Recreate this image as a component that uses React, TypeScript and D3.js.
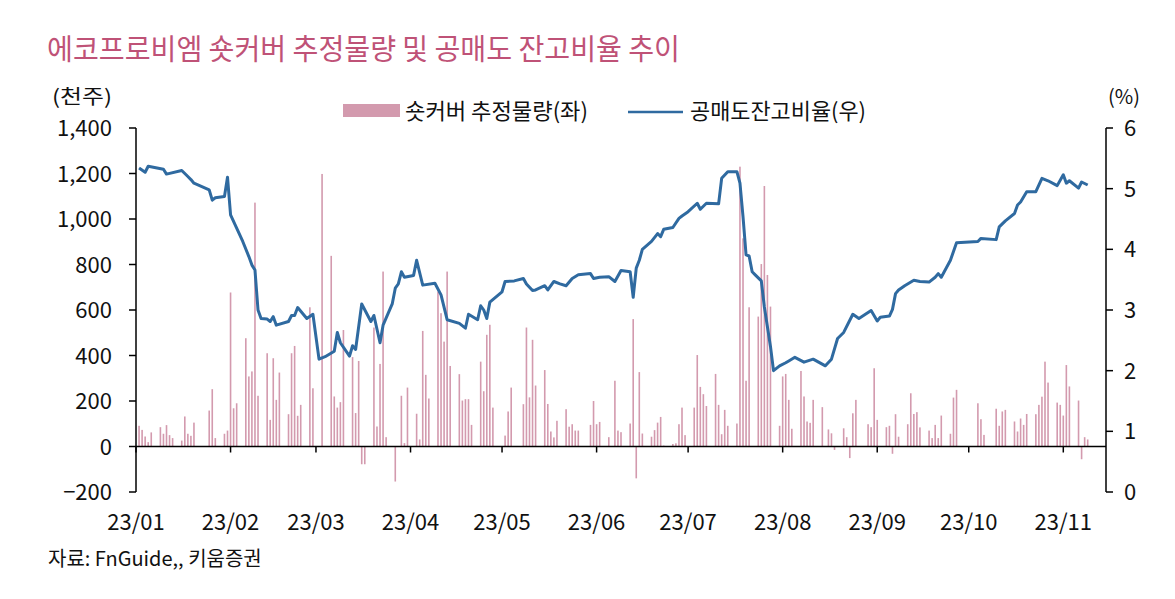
import * as d3 from 'd3'

// 숏커버 추정물량 (천주), 일별
const shortCover: [string, number][] = [
  ['2023-01-02', 91], ['2023-01-03', 73], ['2023-01-04', 44], ['2023-01-05', 19], ['2023-01-06', 62],
  ['2023-01-09', 85], ['2023-01-10', 56], ['2023-01-11', 94], ['2023-01-12', 50], ['2023-01-13', 37],
  ['2023-01-16', 26], ['2023-01-17', 132], ['2023-01-18', 56], ['2023-01-19', 47], ['2023-01-20', 105],
  ['2023-01-25', 158], ['2023-01-26', 252], ['2023-01-27', 37], ['2023-01-30', 56], ['2023-01-31', 70],
  ['2023-02-01', 677], ['2023-02-02', 168], ['2023-02-03', 190], ['2023-02-06', 476], ['2023-02-07', 308],
  ['2023-02-08', 330], ['2023-02-09', 1072], ['2023-02-10', 223], ['2023-02-13', 410], ['2023-02-14', 117],
  ['2023-02-15', 388], ['2023-02-16', 205], ['2023-02-17', 325], ['2023-02-20', 142], ['2023-02-21', 410],
  ['2023-02-22', 442], ['2023-02-23', 135], ['2023-02-24', 183], ['2023-02-27', 612], ['2023-02-28', 256],
  ['2023-03-03', 1198], ['2023-03-06', 838], ['2023-03-07', 220], ['2023-03-08', 171], ['2023-03-09', 195],
  ['2023-03-10', 512], ['2023-03-13', 393], ['2023-03-14', 147], ['2023-03-15', 376], ['2023-03-16', -78],
  ['2023-03-17', -78], ['2023-03-20', 523], ['2023-03-21', 88], ['2023-03-22', 363], ['2023-03-23', 769],
  ['2023-03-24', 41], ['2023-03-27', -154], ['2023-03-29', 223], ['2023-03-30', 15], ['2023-03-31', 259],
  ['2023-04-03', 144], ['2023-04-04', 31], ['2023-04-05', 508], ['2023-04-06', 315], ['2023-04-07', 211],
  ['2023-04-10', 681], ['2023-04-11', 586], ['2023-04-12', 461], ['2023-04-13', 769], ['2023-04-14', 354],
  ['2023-04-17', 318], ['2023-04-18', 202], ['2023-04-19', 208], ['2023-04-20', 208], ['2023-04-21', 95],
  ['2023-04-24', 373], ['2023-04-25', 243], ['2023-04-26', 491], ['2023-04-27', 535], ['2023-04-28', 171],
  ['2023-05-02', 48], ['2023-05-03', 154], ['2023-05-04', 259], ['2023-05-08', 186], ['2023-05-09', 523],
  ['2023-05-10', 216], ['2023-05-11', 469], ['2023-05-12', 268], ['2023-05-15', 336], ['2023-05-16', 187],
  ['2023-05-17', 66], ['2023-05-18', 40], ['2023-05-19', 113], ['2023-05-22', 164], ['2023-05-23', 87],
  ['2023-05-24', 98], ['2023-05-25', 70], ['2023-05-26', 70], ['2023-05-30', 95], ['2023-05-31', 200],
  ['2023-06-01', 98], ['2023-06-02', 108], ['2023-06-05', 41], ['2023-06-07', 289], ['2023-06-08', 70],
  ['2023-06-09', 63], ['2023-06-12', 101], ['2023-06-13', 560], ['2023-06-14', -140], ['2023-06-15', 327],
  ['2023-06-16', 57], ['2023-06-19', 43], ['2023-06-20', 72], ['2023-06-21', 105], ['2023-06-22', 130],
  ['2023-06-23', 4], ['2023-06-26', 11], ['2023-06-27', 14], ['2023-06-28', 98], ['2023-06-29', 171],
  ['2023-06-30', 50], ['2023-07-03', 171], ['2023-07-04', 402], ['2023-07-05', 262], ['2023-07-06', 230],
  ['2023-07-07', 178], ['2023-07-10', 319], ['2023-07-11', 183], ['2023-07-12', 54], ['2023-07-13', 161],
  ['2023-07-14', 91], ['2023-07-17', 101], ['2023-07-18', 1230], ['2023-07-19', 915], ['2023-07-20', 289],
  ['2023-07-21', 612], ['2023-07-24', 571], ['2023-07-25', 802], ['2023-07-26', 1145], ['2023-07-27', 754],
  ['2023-07-28', 615], ['2023-07-31', 91], ['2023-08-01', 308], ['2023-08-02', 319], ['2023-08-03', 205],
  ['2023-08-04', 78], ['2023-08-07', 332], ['2023-08-08', 220], ['2023-08-09', 110], ['2023-08-10', 104],
  ['2023-08-11', 205], ['2023-08-14', 173], ['2023-08-16', 75], ['2023-08-17', 58], ['2023-08-18', -15],
  ['2023-08-21', 80], ['2023-08-22', 41], ['2023-08-23', -51], ['2023-08-24', 146], ['2023-08-25', 205],
  ['2023-08-29', 98], ['2023-08-30', 85], ['2023-08-31', 344], ['2023-09-01', 117], ['2023-09-04', 85],
  ['2023-09-05', 91], ['2023-09-06', -32], ['2023-09-07', 142], ['2023-09-08', 43], ['2023-09-11', 98],
  ['2023-09-12', 234], ['2023-09-13', 143], ['2023-09-14', 151], ['2023-09-15', 84], ['2023-09-18', 70],
  ['2023-09-19', 37], ['2023-09-20', 95], ['2023-09-21', 37], ['2023-09-22', 136], ['2023-09-25', 56],
  ['2023-09-26', 215], ['2023-09-27', 249], ['2023-10-04', 190], ['2023-10-05', 120], ['2023-10-06', 51],
  ['2023-10-10', 166], ['2023-10-11', 91], ['2023-10-12', 154], ['2023-10-13', 161], ['2023-10-16', 110],
  ['2023-10-17', 66], ['2023-10-18', 123], ['2023-10-19', 95], ['2023-10-20', 143], ['2023-10-23', 142],
  ['2023-10-24', 183], ['2023-10-25', 219], ['2023-10-26', 373], ['2023-10-27', 281], ['2023-10-30', 193],
  ['2023-10-31', 183], ['2023-11-01', 136], ['2023-11-02', 358], ['2023-11-03', 264], ['2023-11-06', 202],
  ['2023-11-07', -56], ['2023-11-08', 41], ['2023-11-09', 31],
]

// 공매도 잔고비율 (%)
const shortRatio: [string, number][] = [
  ['2023-01-02', 5.34], ['2023-01-04', 5.27], ['2023-01-05', 5.37], ['2023-01-10', 5.32], ['2023-01-11', 5.24],
  ['2023-01-16', 5.30], ['2023-01-18', 5.20], ['2023-01-19', 5.15], ['2023-01-20', 5.09], ['2023-01-25', 4.98],
  ['2023-01-26', 4.81], ['2023-01-27', 4.85], ['2023-01-30', 4.87], ['2023-01-31', 5.19], ['2023-02-01', 4.57],
  ['2023-02-03', 4.35], ['2023-02-05', 4.13], ['2023-02-07', 3.88], ['2023-02-08', 3.74], ['2023-02-09', 3.66],
  ['2023-02-10', 3.00], ['2023-02-11', 2.86], ['2023-02-13', 2.85], ['2023-02-14', 2.81], ['2023-02-15', 2.89],
  ['2023-02-16', 2.75], ['2023-02-20', 2.81], ['2023-02-21', 2.91], ['2023-02-22', 2.91], ['2023-02-23', 3.04],
  ['2023-02-26', 2.86], ['2023-02-28', 2.93], ['2023-03-02', 2.19], ['2023-03-04', 2.23], ['2023-03-07', 2.32],
  ['2023-03-08', 2.63], ['2023-03-09', 2.46], ['2023-03-12', 2.24], ['2023-03-13', 2.41], ['2023-03-14', 2.35],
  ['2023-03-16', 3.10], ['2023-03-19', 2.81], ['2023-03-20', 2.91], ['2023-03-22', 2.46], ['2023-03-23', 2.75],
  ['2023-03-26', 3.10], ['2023-03-27', 3.36], ['2023-03-28', 3.43], ['2023-03-29', 3.63], ['2023-03-30', 3.54],
  ['2023-04-02', 3.57], ['2023-04-03', 3.82], ['2023-04-05', 3.41], ['2023-04-09', 3.44], ['2023-04-11', 3.25],
  ['2023-04-13', 2.84], ['2023-04-17', 2.78], ['2023-04-19', 2.70], ['2023-04-20', 2.93], ['2023-04-23', 2.84],
  ['2023-04-24', 3.07], ['2023-04-25', 3.00], ['2023-04-26', 2.86], ['2023-04-27', 3.13], ['2023-05-01', 3.30],
  ['2023-05-02', 3.47], ['2023-05-05', 3.48], ['2023-05-08', 3.52], ['2023-05-09', 3.43], ['2023-05-11', 3.32],
  ['2023-05-12', 3.33], ['2023-05-15', 3.40], ['2023-05-16', 3.33], ['2023-05-18', 3.47], ['2023-05-20', 3.43],
  ['2023-05-22', 3.40], ['2023-05-24', 3.52], ['2023-05-26', 3.58], ['2023-05-30', 3.60], ['2023-05-31', 3.52],
  ['2023-06-02', 3.54], ['2023-06-05', 3.55], ['2023-06-07', 3.47], ['2023-06-09', 3.65], ['2023-06-12', 3.63],
  ['2023-06-13', 3.21], ['2023-06-14', 3.69], ['2023-06-15', 3.82], ['2023-06-16', 4.00], ['2023-06-19', 4.13],
  ['2023-06-21', 4.26], ['2023-06-22', 4.21], ['2023-06-23', 4.33], ['2023-06-26', 4.36], ['2023-06-28', 4.51],
  ['2023-06-29', 4.55], ['2023-07-01', 4.62], ['2023-07-04', 4.76], ['2023-07-05', 4.66], ['2023-07-07', 4.76],
  ['2023-07-11', 4.75], ['2023-07-12', 5.17], ['2023-07-14', 5.28], ['2023-07-17', 5.28], ['2023-07-18', 5.09],
  ['2023-07-19', 4.54], ['2023-07-20', 3.91], ['2023-07-21', 3.89], ['2023-07-22', 3.63], ['2023-07-23', 3.58],
  ['2023-07-25', 3.48], ['2023-07-26', 3.05], ['2023-07-28', 2.40], ['2023-07-29', 2.00], ['2023-07-31', 2.08],
  ['2023-08-02', 2.13], ['2023-08-03', 2.16], ['2023-08-05', 2.22], ['2023-08-08', 2.14], ['2023-08-11', 2.19],
  ['2023-08-15', 2.08], ['2023-08-17', 2.19], ['2023-08-19', 2.53], ['2023-08-21', 2.63], ['2023-08-24', 2.93],
  ['2023-08-26', 2.86], ['2023-08-30', 2.99], ['2023-09-01', 2.82], ['2023-09-02', 2.88], ['2023-09-05', 2.90],
  ['2023-09-06', 3.01], ['2023-09-07', 3.27], ['2023-09-08', 3.33], ['2023-09-10', 3.40], ['2023-09-13', 3.49],
  ['2023-09-15', 3.47], ['2023-09-18', 3.46], ['2023-09-20', 3.54], ['2023-09-21', 3.60], ['2023-09-22', 3.54],
  ['2023-09-25', 3.82], ['2023-09-27', 4.11], ['2023-10-04', 4.13], ['2023-10-05', 4.18], ['2023-10-10', 4.16],
  ['2023-10-11', 4.37], ['2023-10-13', 4.47], ['2023-10-16', 4.59], ['2023-10-17', 4.73], ['2023-10-18', 4.78],
  ['2023-10-20', 4.95], ['2023-10-23', 4.95], ['2023-10-25', 5.17], ['2023-10-27', 5.13], ['2023-10-30', 5.05],
  ['2023-11-01', 5.23], ['2023-11-02', 5.09], ['2023-11-03', 5.13], ['2023-11-06', 5.01], ['2023-11-07', 5.11],
  ['2023-11-09', 5.06],
]

const monthLabels = ['23/01', '23/02', '23/03', '23/04', '23/05', '23/06', '23/07', '23/08', '23/09', '23/10', '23/11']
const leftTicks = [-200, 0, 200, 400, 600, 800, 1000, 1200, 1400]
const rightTicks = [0, 1, 2, 3, 4, 5, 6]

const FONT = '"Noto Sans CJK KR", "Noto Sans", sans-serif'
const BAR = '#d39aae'
const LINE = '#2f6aa0'

export default function App() {
  const W = 1175
  const H = 599
  const parse = d3.timeParse('%Y-%m-%d')

  const x = d3.scaleTime()
    .domain([new Date(2023, 0, 1), new Date(2023, 10, 15)])
    .range([136, 1106])
  const yL = d3.scaleLinear().domain([-200, 1400]).range([492, 128])
  const yR = d3.scaleLinear().domain([0, 6]).range([492, 128])

  const months = d3.timeMonth.range(new Date(2023, 0, 1), new Date(2023, 10, 2))
  const fmt = d3.format(',')

  const bars = shortCover.map(([d, v]) => ({ date: parse(d)!, v }))
  const ratio = shortRatio.map(([d, v]) => ({ date: parse(d)!, v }))

  const line = d3.line<{ date: Date; v: number }>()
    .x(d => x(d.date))
    .y(d => yR(d.v))

  const y0 = yL(0)

  return (
    <div style={{ position: 'absolute', left: 0, top: 0 }}>
      <svg width={W} height={H} style={{ display: 'block', background: '#fff', fontFamily: FONT }}>
        {/* 제목 */}
        <text x={47} y={60} fontSize={29} fill="#bf5277" textLength={633} lengthAdjust="spacingAndGlyphs">
          에코프로비엠 숏커버 추정물량 및 공매도 잔고비율 추이
        </text>

        {/* 단위 */}
        <text x={52} y={104} fontSize={20} fill="#111" textLength={60} lengthAdjust="spacingAndGlyphs">(천주)</text>
        <text x={1108} y={104} fontSize={20} fill="#111">(%)</text>

        {/* 범례 */}
        <rect x={343} y={104} width={57} height={13} fill={BAR} />
        <text x={405} y={119} fontSize={22} fill="#111" textLength={183} lengthAdjust="spacingAndGlyphs">숏커버 추정물량(좌)</text>
        <line x1={628} x2={683} y1={112} y2={112} stroke={LINE} strokeWidth={2.5} />
        <text x={690} y={119} fontSize={22} fill="#111" textLength={176} lengthAdjust="spacingAndGlyphs">공매도잔고비율(우)</text>

        {/* 막대 */}
        {bars.map((d, i) => (
          <rect
            key={i}
            x={x(d.date) - 0.8}
            y={Math.min(yL(d.v), y0)}
            width={1.6}
            height={Math.abs(yL(d.v) - y0)}
            fill={BAR}
          />
        ))}

        {/* 0 기준선 + 월 눈금 */}
        <line x1={136} x2={1106} y1={y0} y2={y0} stroke="#000" strokeWidth={1.5} />
        {months.map((m, i) => (
          <g key={i}>
            <line x1={x(m)} x2={x(m)} y1={y0} y2={y0 + 6} stroke="#000" strokeWidth={1.5} />
            <text x={x(m)} y={530} fontSize={22} textAnchor="middle" fill="#111">{monthLabels[i]}</text>
          </g>
        ))}

        {/* 잔고비율 */}
        <path d={line(ratio) ?? ''} fill="none" stroke={LINE} strokeWidth={3} strokeLinejoin="round" />

        {/* 좌축 */}
        <line x1={136} x2={136} y1={128} y2={492} stroke="#000" strokeWidth={1.5} />
        {leftTicks.map(t => (
          <g key={t}>
            <line x1={129} x2={136} y1={yL(t)} y2={yL(t)} stroke="#000" strokeWidth={1.5} />
            <text x={112} y={yL(t) + 8} fontSize={22} textAnchor="end" fill="#111">{fmt(t)}</text>
          </g>
        ))}

        {/* 우축 */}
        <line x1={1106} x2={1106} y1={128} y2={492} stroke="#000" strokeWidth={1.5} />
        {rightTicks.map(t => (
          <g key={t}>
            <line x1={1106} x2={1113} y1={yR(t)} y2={yR(t)} stroke="#000" strokeWidth={1.5} />
            <text x={1124} y={yR(t) + 8} fontSize={22} fill="#111">{t}</text>
          </g>
        ))}

        {/* 출처 */}
        <text x={48} y={566} fontSize={20} fill="#111">자료: FnGuide,, 키움증권</text>
      </svg>
    </div>
  )
}
